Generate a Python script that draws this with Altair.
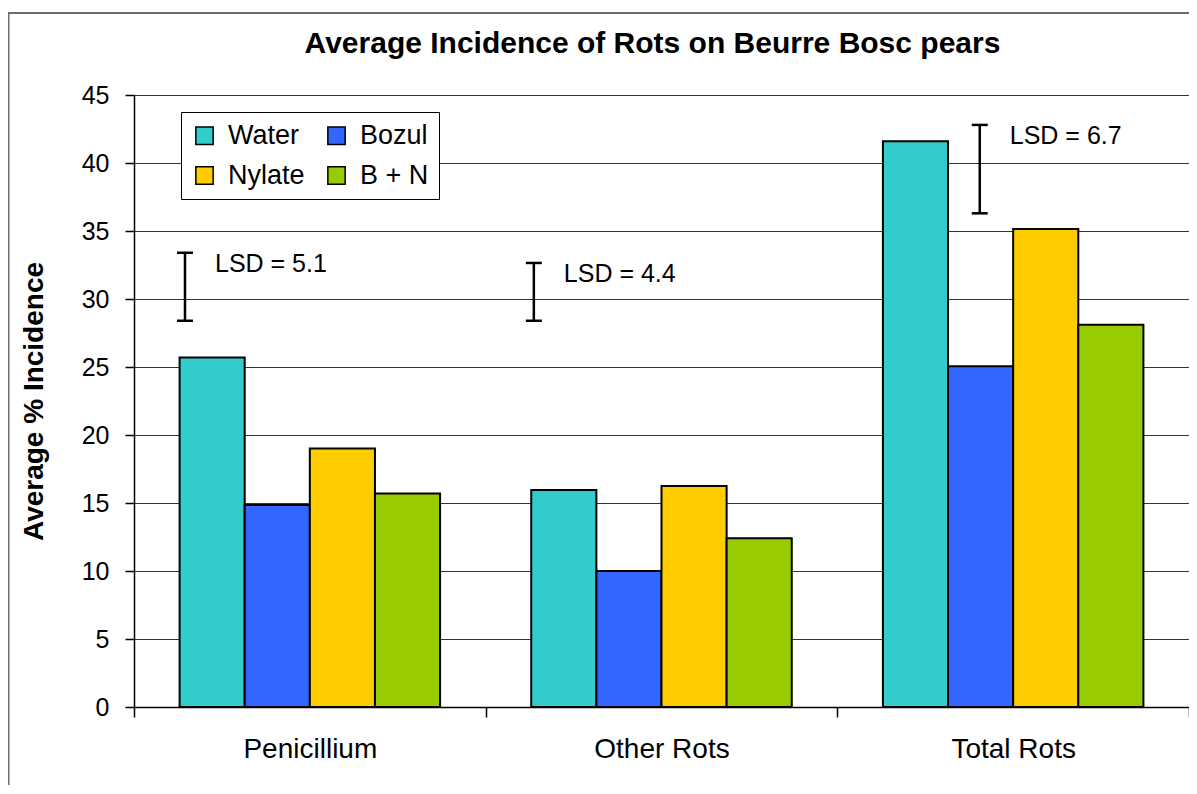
import altair as alt
import pandas as pd

# ---- data ----
categories = ["Penicillium", "Other Rots", "Total Rots"]
treatments = ["Water", "Bozul", "Nylate", "B + N"]
water = [25.7, 15.95, 41.6]
bozul = [14.85, 10.0, 25.05]
nylate = [19.0, 16.25, 35.15]
b_plus_n = [15.7, 12.4, 28.1]
colors = ["#33CCCC", "#3366FF", "#FFCC00", "#99CC00"]
lsd_labels = ["LSD = 5.1", "LSD = 4.4", "LSD = 6.7"]
lsd_low = [28.4, 28.4, 36.3]
lsd_high = [33.4, 32.65, 42.8]
y_ticks = [0, 5, 10, 15, 20, 25, 30, 35, 40, 45]

FONT = "Liberation Sans"
W, H = 1055, 612

rows = []
for i, c in enumerate(categories):
    for t, vals in zip(treatments, [water, bozul, nylate, b_plus_n]):
        rows.append({"category": c, "treatment": t, "value": vals[i]})
bars_df = pd.DataFrame(rows)

lsd_df = pd.DataFrame({"category": categories, "label": lsd_labels,
                       "lo": lsd_low, "hi": lsd_high})

x_scale = alt.Scale(domain=categories, paddingInner=0, paddingOuter=0)
y_scale = alt.Scale(domain=[0, 45], nice=False)

x_axis = alt.Axis(title=None, tickBand="extent", labelAngle=0, labelFontSize=28,
                  labelFont=FONT, labelColor="black", labelPadding=18, tickSize=10,
                  tickColor="black", domainColor="black", domainWidth=1.5,
                  tickWidth=1.5, grid=False)
y_axis = alt.Axis(values=y_ticks, title="Average % Incidence", titleFontSize=28,
                  titleFont=FONT, titleFontWeight="bold", titleColor="black",
                  titleAngle=270, titleX=-100, titleY=H / 2, titleAlign="center",
                  titleBaseline="middle", labelFontSize=25, labelFont=FONT,
                  labelColor="black", labelPadding=16, tickSize=9,
                  tickColor="black", domainColor="black", domainWidth=1.5,
                  tickWidth=1.5, grid=True, gridColor="#333333", gridWidth=1)

bars = alt.Chart(bars_df).mark_bar(stroke="black", strokeWidth=2).encode(
    x=alt.X("category:N", sort=categories, scale=x_scale, axis=x_axis),
    xOffset=alt.XOffset("treatment:N", sort=treatments,
                        scale=alt.Scale(domain=treatments, paddingInner=0, paddingOuter=0.7)),
    y=alt.Y("value:Q", scale=y_scale, axis=y_axis),
    color=alt.Color("treatment:N", sort=treatments,
                    scale=alt.Scale(domain=treatments, range=colors),
                    legend=alt.Legend(title=None, orient="none", legendX=47, legendY=17,
                                      direction="horizontal", columns=2,
                                      symbolType="square", symbolSize=300,
                                      symbolStrokeColor="black", symbolStrokeWidth=1.5,
                                      labelFontSize=27, labelFont=FONT, labelColor="black",
                                      labelOffset=10, fillColor="white", strokeColor="black",
                                      padding=10, rowPadding=12, columnPadding=18)),
)

# LSD annotations, each placed at its own spot inside its category band
band_pos = {"Penicillium": 0.145, "Other Rots": 0.137, "Total Rots": 0.405}
cap_shape = "M -1 0 L 1 0"
layers = [bars]
for c in categories:
    base = alt.Chart(lsd_df).transform_filter(alt.datum.category == c)
    xe = alt.X("category:N", sort=categories, scale=x_scale, bandPosition=band_pos[c])
    rule = base.mark_rule(color="black", strokeWidth=2.5).encode(
        x=xe, y=alt.Y("lo:Q", scale=y_scale), y2="hi:Q")
    cap_lo = base.mark_point(shape=cap_shape, size=256, filled=False, stroke="black",
                             strokeWidth=2.5, opacity=1).encode(
        x=xe, y=alt.Y("lo:Q", scale=y_scale))
    cap_hi = base.mark_point(shape=cap_shape, size=256, filled=False, stroke="black",
                             strokeWidth=2.5, opacity=1).encode(
        x=xe, y=alt.Y("hi:Q", scale=y_scale))
    txt = base.mark_text(align="left", baseline="middle", dx=30, dy=11,
                         fontSize=25, font=FONT, color="black").encode(
        x=xe, y=alt.Y("hi:Q", scale=y_scale), text="label:N")
    layers += [rule, cap_lo, cap_hi, txt]

# outer chart frame (left and top edges visible in the reference)
one = pd.DataFrame({"k": [0]})
frame_left = alt.Chart(one).mark_rule(color="#6e6e6e", strokeWidth=2).encode(
    x=alt.value(-125.5), y=alt.value(-82), y2=alt.value(720))
frame_top = alt.Chart(one).mark_rule(color="#6e6e6e", strokeWidth=2).encode(
    x=alt.value(-126), x2=alt.value(1100), y=alt.value(-82))
layers += [frame_left, frame_top]

chart = alt.layer(*layers).properties(
    width=W, height=H,
    autosize=alt.AutoSizeParams(type="none"),
    padding={"left": 126, "top": 87, "right": 0, "bottom": 78},
    title=alt.TitleParams("Average Incidence of Rots on Beurre Bosc pears",
                          fontSize=30, font=FONT, fontWeight="bold", color="black",
                          anchor="middle", frame="group", baseline="alphabetic",
                          offset=-71, dx=-9),
).configure_view(stroke="transparent").configure(font=FONT)

chart.save("out.html", embed_options={"renderer": "svg", "actions": False})
